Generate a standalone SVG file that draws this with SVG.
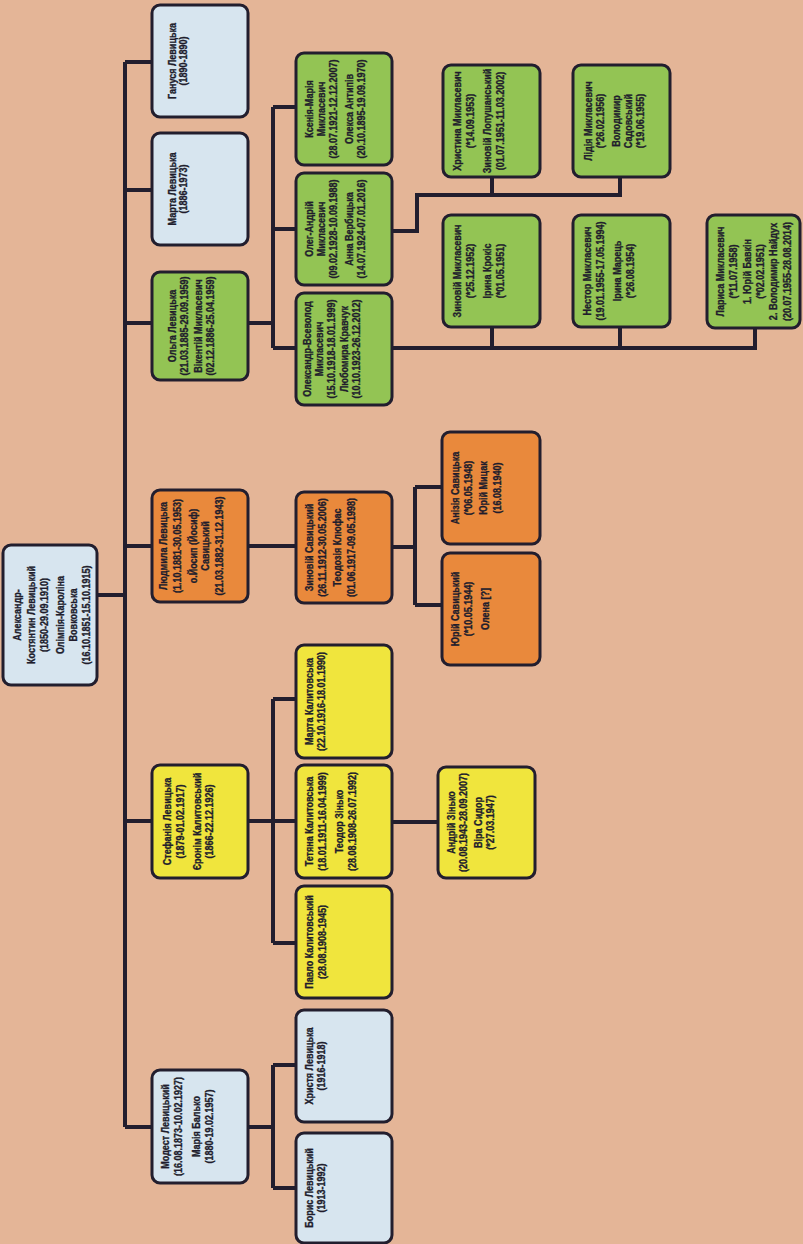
<svg xmlns="http://www.w3.org/2000/svg" width="803" height="1244" viewBox="0 0 803 1244">
<style>
.box{stroke:#221e2e;stroke-width:3}
.b{fill:#d7e5ef}.y{fill:#f0e53d}.o{fill:#e9893c}.g{fill:#93c454}
text{font-family:"Liberation Sans Narrow","Liberation Sans",Arial,sans-serif;font-weight:bold;font-size:11px;fill:#201c2c;stroke:#201c2c;stroke-width:0.35;text-anchor:middle;transform:scale(0.82,1)}
.c{stroke:#221e2e;stroke-width:4;fill:none;stroke-linejoin:miter}
</style>
<rect width="803" height="1244" fill="#e4b597"/>
<g id="connectors">
<path class="c" d="M97,595H125M125,62V1127M125,62H152M125,190H152M125,323H152M125,546H152M125,821H152M125,1127H152"/>
<path class="c" d="M248,323H273M273,107V348M273,107H296M273,229H296M273,348H296"/>
<path class="c" d="M392,231H417V195H620V177M492,195V177"/>
<path class="c" d="M392,348H755V328M492,348V327M620,348V327"/>
<path class="c" d="M248,546H296M392,547H415M415,487V605M415,487H442M415,605H442"/>
<path class="c" d="M248,821H273M273,699V943M273,699H296M273,821H296M273,943H296M392,822H438"/>
<path class="c" d="M248,1127H273M273,1065V1188M273,1065H296M273,1188H296"/>
</g>
<g id="root" transform="translate(3,615) rotate(-90)"><rect class="box b" x="-70" y="0" width="140" height="94" rx="8"/><text y="18">Александр-</text><text y="32">Костянтин Левицький</text><text y="45">(1850-29.09.1910)</text><text y="61">Олімпія-Кароліна</text><text y="74">Вовковська</text><text y="87">(16.10.1851-15.10.1915)</text></g>
<g id="ganusia" transform="translate(152,61) rotate(-90)"><rect class="box b" x="-56" y="0" width="112" height="96" rx="8"/><text y="24">Гануся Левицька</text><text y="35">(1890-1890)</text></g>
<g id="marta" transform="translate(152,189) rotate(-90)"><rect class="box b" x="-56" y="0" width="112" height="96" rx="8"/><text y="24">Марта Левицька</text><text y="35">(1886-1973)</text></g>
<g id="olha" transform="translate(152,326) rotate(-90)"><rect class="box g" x="-54" y="0" width="108" height="96" rx="8"/><text y="24">Ольга Левицька</text><text y="36">(21.03.1885-29.09.1959)</text><text y="50">Вікентій Микласевич</text><text y="62">(02.12.1886-25.04.1959)</text></g>
<g id="liudmyla" transform="translate(152,546) rotate(-90)"><rect class="box o" x="-56" y="0" width="112" height="96" rx="8"/><text y="15">Людмила Левицька</text><text y="29">(1.10.1881-30.05.1953)</text><text y="45">о.Йосип (Йосиф)</text><text y="57">Савицький</text><text y="71">(21.03.1882-31.12.1943)</text></g>
<g id="stefania" transform="translate(152,821.5) rotate(-90)"><rect class="box y" x="-56.5" y="0" width="113" height="96" rx="8"/><text y="19">Стефанія Левицька</text><text y="32">(1879-01.02.1917)</text><text y="49">Єронім Калитовський</text><text y="61">(1866-22.12.1926)</text></g>
<g id="modest" transform="translate(152,1126.5) rotate(-90)"><rect class="box b" x="-56.5" y="0" width="113" height="96" rx="8"/><text y="17">Модест Левицький</text><text y="30">(16.08.1873-10.02.1927)</text><text y="48">Марія Балько</text><text y="61">(1880-19.02.1957)</text></g>
<g id="ksenia" transform="translate(296,109) rotate(-90)"><rect class="box g" x="-56" y="0" width="112" height="96" rx="8"/><text y="17">Ксенія-Марія</text><text y="29">Микласевич</text><text y="41">(28.07.1921-12.12.2007)</text><text y="57">Олекса Антипів</text><text y="69">(20.10.1895-19.09.1970)</text></g>
<g id="oleh" transform="translate(296,229) rotate(-90)"><rect class="box g" x="-56" y="0" width="112" height="96" rx="8"/><text y="17">Олег-Андрій</text><text y="29">Микласевич</text><text y="41">(09.02.1928-10.09.1988)</text><text y="57">Анна Вербицька</text><text y="69">(14.07.1924-07.01.2016)</text></g>
<g id="oleksandr" transform="translate(296,349) rotate(-90)"><rect class="box g" x="-56" y="0" width="112" height="96" rx="8"/><text y="15">Олександр-Всеволод</text><text y="27">Микласевич</text><text y="39">(15.10.1918-18.01.1999)</text><text y="52">Любомира Кравчук</text><text y="64">(10.10.1923-26.12.2012)</text></g>
<g id="zynovii-savytskyi" transform="translate(296,547.5) rotate(-90)"><rect class="box o" x="-55.5" y="0" width="111" height="96" rx="8"/><text y="17">Зиновій Савицький</text><text y="30">(26.11.1912-30.05.2006)</text><text y="45">Теодозія Клюфас</text><text y="59">(01.06.1917-09.05.1998)</text></g>
<g id="marta-kalytovska" transform="translate(296,701.5) rotate(-90)"><rect class="box y" x="-56.5" y="0" width="113" height="96" rx="8"/><text y="17">Марта Калитовська</text><text y="29">(22.10.1916-18.01.1990)</text></g>
<g id="tetiana" transform="translate(296,821.5) rotate(-90)"><rect class="box y" x="-56.5" y="0" width="113" height="96" rx="8"/><text y="17">Тетяна Калитовська</text><text y="30">(18.01.1911-16.04.1999)</text><text y="47">Теодор Зінько</text><text y="60">(28.08.1908-26.07.1992)</text></g>
<g id="pavlo" transform="translate(296,942) rotate(-90)"><rect class="box y" x="-56" y="0" width="112" height="96" rx="8"/><text y="17">Павло Калитовський</text><text y="30">(28.08.1908-1945)</text></g>
<g id="khrystia" transform="translate(296,1066) rotate(-90)"><rect class="box b" x="-56" y="0" width="112" height="96" rx="8"/><text y="17">Христя Левицька</text><text y="29">(1916-1918)</text></g>
<g id="borys" transform="translate(296,1188) rotate(-90)"><rect class="box b" x="-55" y="0" width="110" height="96" rx="8"/><text y="17">Борис Левицький</text><text y="29">(1913-1992)</text></g>
<g id="khrystyna" transform="translate(443,121) rotate(-90)"><rect class="box g" x="-56" y="0" width="112" height="97" rx="8"/><text y="18">Христина Микласевич</text><text y="31">(*14.09.1953)</text><text y="48">Зиновій Лопушанський</text><text y="61">(01.07.1951-11.03.2002)</text></g>
<g id="lidia" transform="translate(573,121) rotate(-90)"><rect class="box g" x="-56" y="0" width="112" height="97" rx="8"/><text y="19">Лідія Микласевич</text><text y="31">(*26.02.1956)</text><text y="47">Володимир</text><text y="59">Садовський</text><text y="71">(*19.06.1955)</text></g>
<g id="zynovii-myklasevych" transform="translate(443,271) rotate(-90)"><rect class="box g" x="-56" y="0" width="112" height="97" rx="8"/><text y="18">Зиновій Микласевич</text><text y="31">(*25.12.1952)</text><text y="48">Ірина Крокіс</text><text y="61">(*01.05.1951)</text></g>
<g id="nestor" transform="translate(573,271) rotate(-90)"><rect class="box g" x="-56" y="0" width="112" height="97" rx="8"/><text y="18">Нестор Микласевич</text><text y="31">(19.01.1955-17.05.1994)</text><text y="48">Ірина Марець</text><text y="61">(*26.08.1954)</text></g>
<g id="larysa" transform="translate(707,271.5) rotate(-90)"><rect class="box g" x="-56.5" y="0" width="113" height="93" rx="8"/><text y="17">Лариса Микласевич</text><text y="30">(*11.07.1958)</text><text y="44">1. Юрій Бавкін</text><text y="57">(*02.02.1951)</text><text y="70">2. Володимир Найдух</text><text y="84">(20.07.1955-28.08.2014)</text></g>
<g id="anizia" transform="translate(442,488) rotate(-90)"><rect class="box o" x="-56" y="0" width="112" height="98" rx="8"/><text y="17">Анізія Савицька</text><text y="30">(*06.05.1948)</text><text y="45">Юрій Мицак</text><text y="59">(16.08.1940)</text></g>
<g id="yurii-savytskyi" transform="translate(442,609) rotate(-90)"><rect class="box o" x="-56" y="0" width="112" height="98" rx="8"/><text y="17">Юрій Савицький</text><text y="30">(*10.05.1944)</text><text y="47">Олена [?]</text></g>
<g id="andrii" transform="translate(438,822.5) rotate(-90)"><rect class="box y" x="-55.5" y="0" width="111" height="97" rx="8"/><text y="17">Андрій Зінько</text><text y="29">(20.08.1943-28.09.2007)</text><text y="44">Віра Сидор</text><text y="56">(*27.03.1947)</text></g>
</svg>
